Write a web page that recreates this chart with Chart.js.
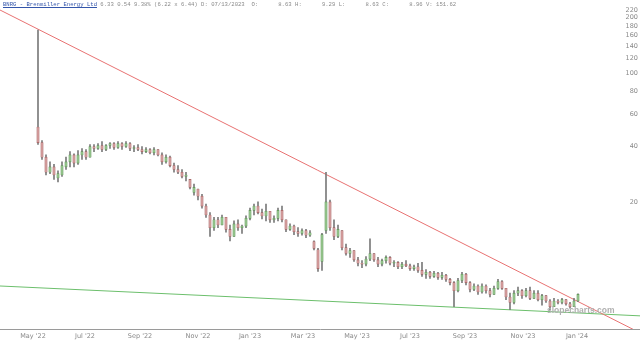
<!DOCTYPE html>
<html><head><meta charset="utf-8">
<script src="https://cdn.jsdelivr.net/npm/chart.js@4.4.0/dist/chart.umd.min.js"></script>
<style>
html,body{margin:0;padding:0;background:#fff;}
#wrap{position:relative;width:640px;height:343px;overflow:hidden;}
#title{position:absolute;left:3px;top:1px;font:5.6px 'Liberation Mono',monospace;color:#8a8a8a;white-space:pre;line-height:8px;}
#title .tk{color:#3355aa;text-decoration:underline;}
#wm{position:absolute;left:547px;top:305px;font:bold 8.5px 'Liberation Sans',Arial,sans-serif;color:#b0b0b0;}
</style></head><body>
<div id="wrap"><canvas id="c" width="640" height="343"></canvas>
<div id="title"><span class="tk">BNRG - Brenmiller Energy Ltd</span> 6.33 0.54 9.38% (6.22 x 6.44) D: 07/13/2023  O:      8.63 H:      9.29 L:      8.63 C:      8.96 V: 151.62</div>
<div id="wm">slopecharts.com</div></div>
<script>
const open  = [51,42,35,29,31,27,28,31,33,36,32.5,36,37.5,35,40,39,40.5,38.5,40.5,41.5,39.5,41.5,40,41.5,39,39.5,38.5,37.5,38.5,37,38.5,36,33,35,31.5,30,29,27.5,26.5,22.5,23.5,21.5,19,17,14.5,16,15,16.5,14.2,13,15.2,14.5,14.8,16.3,18,19,17.5,16.8,17.8,16,16.3,18,16,14.2,14.8,13.8,13.5,14,13.2,12.2,11,9.5,14,20,14.5,13,14,11.3,10.5,10.9,9.7,9.3,9.2,9.8,10.5,9.7,9.2,9.6,10,9.3,9.4,8.9,9.2,9,8.7,8.9,8.5,8.1,8.3,7.9,8.2,7.8,8.0,7.6,7.3,6.6,7.5,8.1,7.3,6.7,7.0,6.5,7.0,6.6,6.3,6.8,7.4,6.8,6.1,5.7,6.4,6.6,6.2,6.6,6.0,6.4,5.9,6.2,5.8,5.4,5.8,5.7,5.9,5.6,5.4,5.8];
const high  = [171,43,36,33,32,29.5,33,35,37.5,36.5,38,39,38.5,41,41,41.5,42.5,41,42,42,42.5,42,42.5,42,40.5,41,40,39.5,39,39.5,38.5,37,36,35.5,32.5,31.5,30,29,26.5,25,23.5,22,19.5,17.5,16.5,16.5,17,16.5,15,15.8,16,15,16.8,18.5,19.5,20,18.3,19.5,17.8,16.8,18.5,19,16,15.2,15,14.5,14.3,14.2,14,12.3,11.2,13.5,29,20.5,16,15,14,11.8,11.2,10.9,10,9.6,10.1,12.6,10.5,10,9.8,10.2,10.1,9.6,9.5,9.4,9.6,9.2,9.1,9.3,9.4,8.6,8.4,8.4,8.3,8.3,8.1,7.7,7.4,7.7,8.3,8.2,7.4,7.2,7.1,7.2,7.1,6.8,7.0,7.6,7.5,6.8,6.4,6.6,6.9,6.7,6.8,6.9,6.6,6.6,6.3,6.2,5.9,6.0,5.9,6.0,5.9,5.7,6.0,6.35];
const low   = [41,34,28,28.5,26.5,25.7,27.5,30,31,31,32,34,34,35,37.5,38.5,37.5,38,39,38.5,39,38.5,39.5,38,37.5,38,36.5,37,36.5,36,35.5,32,32.5,31,29,28.5,27,26,23.5,21.8,20.5,18.5,16.5,13,14,14.5,15,13.7,12.3,13,14,13.5,14.5,16,17,17.2,16.2,15.8,15.5,15.5,15.8,15.6,13.8,14,13.3,13,13.2,12.8,13,11,8.4,8.5,13.5,14,12.5,12.8,11,10.3,10,9.5,9,8.8,9,9.6,9.5,8.9,9,9.3,9.1,8.9,8.7,8.7,8.9,8.5,8.5,8.3,7.9,7.7,7.7,7.8,7.6,7.6,7.4,7.1,5.4,6.5,7.3,7.1,6.5,6.6,6.3,6.4,6.4,6.1,6.3,6.7,6.7,5.9,5.2,5.6,6.2,6.0,6.1,5.9,6.0,5.8,5.5,5.7,5.2,5.4,5.6,5.6,5.5,5.3,5.4,5.75];
const close = [42,35,29,31,28,28.5,31.5,33,36,32.5,36,37.5,35,40,39,40.5,38.5,40.5,41.5,39.5,41.5,40,41.5,39,39.5,38.5,37.5,38.5,37,38.5,36,33,35,31.5,30,29,27.5,28,24,24,21.5,19,17,14.5,16,15,16.5,14.2,13,15.2,14.5,14.8,16.3,18,19,17.5,16.8,17.8,16,16.3,18,16,14.2,14.8,13.8,13.5,14,13.2,13.6,11.2,8.7,13.3,20,14.5,13,14.2,11.3,10.5,10.9,9.7,9.3,9.2,9.8,10.5,9.7,9.2,9.6,10,9.3,9.4,8.9,9.2,9.0,8.7,8.9,8.5,8.1,8.3,7.9,8.2,7.8,8.0,7.6,7.3,6.6,7.5,8.1,7.3,6.7,7.0,6.5,7.0,6.6,6.3,6.8,7.4,6.8,6.1,5.7,6.4,6.6,6.2,6.6,6.0,6.4,5.9,6.2,5.8,5.4,5.8,5.7,5.9,5.6,5.4,5.8,6.3];
const tickLabels = ["May '22","Jul '22","Sep '22","Nov '22","Jan '23","Mar '23","May '23","Jul '23","Sep '23","Nov '23","Jan '24"];
const tickPos    = [-1.25,11.75,25.5,40,53,66.25,79.75,93,106.75,121.25,134.75];
const yTicks     = [20,40,60,80,100,120,140,160,180,200,220];
const resistance = [{x:-9.5,y:220},{x:150.5,y:3.9}];
const support    = [{x:-9.5,y:7.0},{x:150.5,y:4.82}];

const idx = open.map((_, i) => i);
const up = idx.map(i => close[i] >= open[i]);
const noPad = s => { s.paddingLeft = 0; s.paddingRight = 0; s.paddingTop = 0; s.paddingBottom = 0; };

new Chart(document.getElementById('c'), {
  type: 'bar',
  data: {
    datasets: [
      {
        label: 'Body',
        data: idx.map(i => ({x: i, y: [Math.min(open[i], close[i]), Math.max(open[i], close[i])]})),
        backgroundColor: c => up[c.dataIndex] ? '#93c48a' : '#d49c9c',
        borderColor: c => up[c.dataIndex] ? '#5a8f52' : '#a05c5c',
        borderWidth: 0.6,
        borderSkipped: false,
        barThickness: 2.4,
        grouped: false
      },
      {
        label: 'Wick',
        data: idx.map(i => ({x: i, y: [low[i], high[i]]})),
        backgroundColor: '#7a7a7a',
        barThickness: 1,
        grouped: false
      },
      {
        type: 'line', label: 'Resistance', data: resistance,
        borderColor: '#e87272', borderWidth: 1, pointRadius: 0, fill: false
      },
      {
        type: 'line', label: 'Support', data: support,
        borderColor: '#6cbf6c', borderWidth: 1, pointRadius: 0, fill: false
      }
    ]
  },
  options: {
    responsive: false, animation: false, devicePixelRatio: 1,
    layout: {padding: 0, autoPadding: false},
    plugins: {legend: {display: false}, tooltip: {enabled: false}},
    scales: {
      x: {
        type: 'linear', min: -9.5, max: 150.5, offset: false,
        grid: {display: false, drawTicks: false, offset: false},
        border: {display: true, color: '#9a9a9a', width: 1},
        afterBuildTicks: s => { s.ticks = tickPos.map(v => ({value: v})); },
        afterFit: s => { s.height = 14; noPad(s); },
        ticks: {autoSkip: false, maxRotation: 0, padding: 3, color: '#888',
          font: {size: 6.5, family: 'DejaVu Sans'},
          callback: (v, i) => tickLabels[i]}
      },
      y: {
        type: 'logarithmic', position: 'right', min: 4.09, max: 249.3,
        grid: {display: false, drawTicks: false},
        border: {display: false},
        afterBuildTicks: s => { s.ticks = yTicks.map(v => ({value: v})); },
        afterFit: s => { s.width = 0; noPad(s); },
        ticks: {mirror: true, padding: -2, color: '#888',
          font: {size: 6.5, family: 'DejaVu Sans'},
          callback: v => String(v)}
      }
    }
  }
});
</script>
</body></html>
